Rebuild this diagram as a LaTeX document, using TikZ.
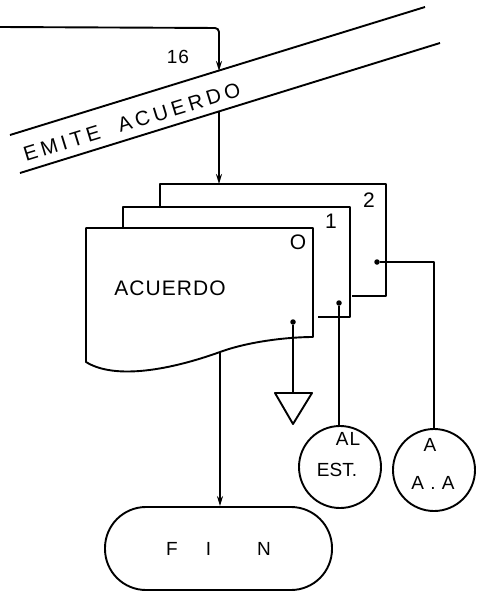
\documentclass[tikz,border=0pt]{standalone}
\usepackage{fontspec}
\setmainfont{Liberation Sans}
\newfontfamily\lettering[LetterSpace=5]{Liberation Sans}
\newfontfamily\letteringwide[LetterSpace=20]{Liberation Sans}
\usetikzlibrary{arrows.meta}
\begin{document}
\begin{tikzpicture}[x=1pt,y=-1pt,
  ln/.style={line width=1.9pt, line join=round},
  arr/.style={ln, -{Stealth[length=10pt,width=6pt]}},
  dotn/.style={circle, fill=black, inner sep=0pt, minimum size=5.5pt},
  txt/.style={inner sep=0pt, font=\lettering\fontsize{21}{24}\selectfont},
  circ/.style={ln, draw, circle, minimum size=82pt, inner sep=0pt}
]
\useasboundingbox (0,0) rectangle (483,600);

% incoming connector
\coordinate (start) at (0,27);
\coordinate (in16) at (219,71);
\draw[arr, rounded corners=4pt] (start) -- (219,28) -- (in16);
\node[txt, font=\lettering\fontsize{19}{22}\selectfont] (n16) at (178,57) {16};

% process band
\draw[ln] (10,135) -- (425,7);
\draw[ln] (20,173) -- (440,43);
\node[txt, rotate=17.1, font=\letteringwide\fontsize{20.5}{22}\selectfont] (emite) at (132,122) {EMITE\ \ ACUERDO};

% pages
\coordinate (bandout) at (219,111);
\coordinate (p2top) at (219,184);
\draw[arr] (bandout) -- (p2top);

\draw[ln] (160,208) -- (160,184) -- (386,184) -- (386,296) -- (352,296);
\draw[ln] (123,228) -- (123,207) -- (350,207) -- (350,317) -- (318,317);
\draw[ln, fill=white] (86,228) -- (313,228) -- (313,337)
  .. controls (290,337) and (250,341) .. (220,352)
  .. controls (170,370) and (115,380) .. (86,362) -- cycle;
\coordinate (w) at (220,352);

\node[txt] (l2) at (369,200) {2};
\node[txt] (l1) at (331,221) {1};
\node[txt] (l0) at (298,242) {O};
\node[txt] (acuerdo) at (170,288) {ACUERDO};

% outputs
\node[dotn] (d0) at (293,322) {};
\node[dotn] (d1) at (339,303) {};
\node[dotn] (d2) at (377,262) {};

\coordinate (tri) at (293,393);
\draw[ln] (275,393) -- (312,393) -- (293,424) -- cycle;
\draw[ln] (d0) -- (tri);

\node[circ] (al) at (340,467) {};
\node[txt, font=\lettering\fontsize{19}{22}\selectfont] (alt1) at (348,439) {AL};
\node[txt, font=\fontsize{19}{22}\selectfont] (alt2) at (337,470) {EST.};
\draw[ln] (d1) -- (d1 |- al.north);

\node[circ] (aa) at (434,470) {};
\node[txt, font=\lettering\fontsize{19}{22}\selectfont] (aat1) at (430,445) {A};
\node[txt, font=\lettering\fontsize{19}{22}\selectfont] (aat2) at (433,483) {A . A};
\draw[ln] (d2) -| (aa.north);

% end terminal
\node[ln, draw, rectangle, rounded corners=41pt, minimum width=227pt, minimum height=83pt,
  font=\lettering\fontsize{19}{22}\selectfont] (fin) at (218.5,548.5) {F\hspace{28pt}I\hspace{46pt}N};
\draw[arr] (w) -- (w |- fin.north);
\end{tikzpicture}
\end{document}
